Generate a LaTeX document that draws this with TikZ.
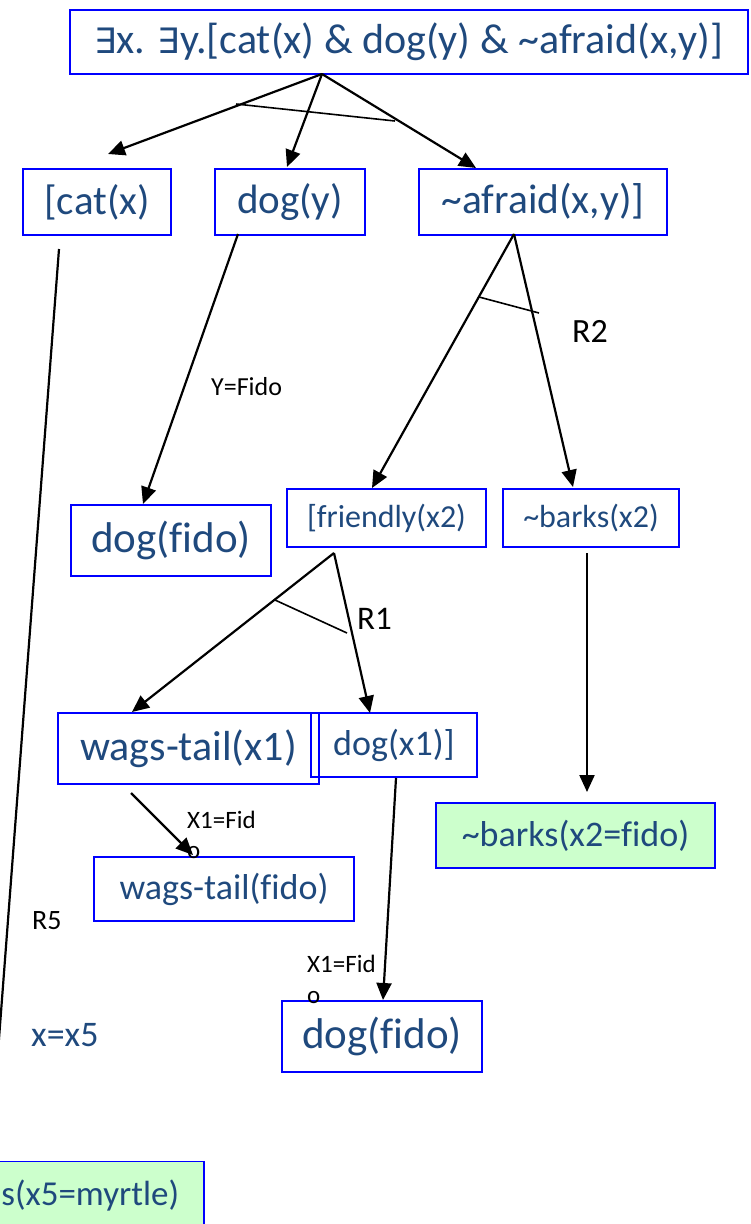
\documentclass[tikz,border=0pt]{standalone}
\usepackage{fontspec}
\setmainfont{Carlito}[Ligatures={NoCommon}]
\newfontfamily\symfont{DejaVu Sans}
\usetikzlibrary{arrows.meta}
\definecolor{txtblue}{RGB}{31,73,125}
\definecolor{boxblue}{RGB}{0,0,255}
\definecolor{leafgreen}{RGB}{204,255,204}
\newcommand{\fs}[1]{\fontsize{#1}{1.2\dimexpr#1pt\relax}\selectfont}
\newcommand{\exist}{{\symfont\fontsize{35}{41}\selectfont ∃}}

\begin{document}
\begin{tikzpicture}[x=1pt,y=-1pt,
  box/.style={draw=boxblue, line width=1.8pt, text=txtblue, inner sep=0pt},
  leaf/.style={box, fill=leafgreen},
  edge/.style={line width=2.2pt, draw=black},
  arr/.style={edge, -{Triangle[length=17pt,width=15pt]}},
  tiebar/.style={line width=1.6pt, draw=black},
  lbl/.style={inner sep=0pt, anchor=base west, text=black},
]
\useasboundingbox (0,0) rectangle (751,1224);

% ---- formula boxes ----
\node[box, minimum width=678pt, minimum height=64pt, font=\fs{42}] (top) at (409,42)
  {\exist x. \exist y.[cat(x) \& dog(y) \& \textasciitilde afraid(x,y)]};
\node[box, minimum width=148pt, minimum height=66pt, font=\fs{41}] (cat) at (97,202) {[cat(x)};
\node[box, minimum width=150pt, minimum height=66pt, font=\fs{41}] (dog) at (290,202) {dog(y)};
\node[box, minimum width=248pt, minimum height=66pt, font=\fs{41.5}] (afraid) at (543,202) {\textasciitilde afraid(x,y)]};
\node[box, minimum width=200pt, minimum height=71pt, font=\fs{43}] (dogfido) at (171,540.5) {dog(fido)};
\node[box, minimum width=199pt, minimum height=58pt, font=\fs{32}] (friendly) at (386.5,518) {[friendly(x2)};
\node[box, minimum width=176pt, minimum height=58pt, font=\fs{32}] (barks) at (591,518) {\textasciitilde barks(x2)};
\node[box, minimum width=261pt, minimum height=71pt, font=\fs{42}] (wags) at (188.5,748.5) {wags-tail(x1)};
\node[box, minimum width=166pt, minimum height=64pt, font=\fs{36}] (dogx1) at (394,745) {dog(x1)]};
\node[box, minimum width=260pt, minimum height=64pt, font=\fs{36}] (wagsfido) at (224,889) {wags-tail(fido)};
\node[box, minimum width=200pt, minimum height=71pt, font=\fs{43}] (dogfidob) at (382,1036.5) {dog(fido)};
\node[leaf, minimum width=279pt, minimum height=65pt, font=\fs{36}] (barksfido) at (575.5,835.5) {\textasciitilde barks(x2=fido)};
\node[leaf, anchor=base east, inner xsep=25pt, inner ysep=18pt, font=\fs{35}] (myrtle) at (205,1205) {s(x5=myrtle)};

% ---- connector end points ----
\coordinate (topfork) at (322,74);
\coordinate (catin) at (108,154);
\coordinate (dogin) at (287,167);
\coordinate (afraidin) at (476,168);
\coordinate (catout) at (59,249);
\coordinate (catend) at (-4,1078);
\coordinate (dogout) at (238,234);
\coordinate (dogfidoin) at (143,504);
\coordinate (afraidfork) at (514,234);
\coordinate (friendlyin) at (372,488);
\coordinate (barksin) at (573,487);
\coordinate (friendlyfork) at (334,553);
\coordinate (wagsin) at (132,712);
\coordinate (dogxin) at (370,713);
\coordinate (wagsout) at (131,793);
\coordinate (wagsfidoin) at (193,855);
\coordinate (dogxout) at (396,778);
\coordinate (dogfidobin) at (383,1000);
\coordinate (barksout) at (587,553);
\coordinate (barksfidoin) at (587,792);

% ---- connectors ----
\draw[arr] (topfork) -- (catin);
\draw[arr] (topfork) -- (dogin);
\draw[arr] (topfork) -- (afraidin);
\draw[tiebar] (236,104) -- (395,121);

\draw[edge] (catout) -- (catend);
\draw[arr] (dogout) -- (dogfidoin);

\draw[arr] (afraidfork) -- (friendlyin);
\draw[arr] (afraidfork) -- (barksin);
\draw[tiebar] (479,297) -- (539,313);

\draw[arr] (friendlyfork) -- (wagsin);
\draw[arr] (friendlyfork) -- (dogxin);
\draw[tiebar] (275,600) -- (347,633);

\draw[arr] (wagsout) -- (wagsfidoin);
\draw[arr] (dogxout) -- (dogfidobin);
\draw[arr] (barksout) -- (barksfidoin);

% ---- labels ----
\node[lbl, font=\fs{26}] (yfido) at (211,395) {Y=Fido};
\node[lbl, font=\fs{34}] (rtwo) at (572,342) {R2};
\node[lbl, font=\fs{33}] (rone) at (357,629) {R1};
\node[lbl, font=\fs{25}] (xa) at (187,828) {X1=Fid};
\node[lbl, font=\fs{25}] (xao) at (187,858) {o};
\node[lbl, font=\fs{28}] (rfive) at (32,929) {R5};
\node[lbl, font=\fs{25}] (xb) at (307,972) {X1=Fid};
\node[lbl, font=\fs{25}] (xbo) at (307,1003) {o};
\node[lbl, font=\fs{36}, text=txtblue] (xx) at (31,1046) {x=x5};
\end{tikzpicture}
\end{document}
